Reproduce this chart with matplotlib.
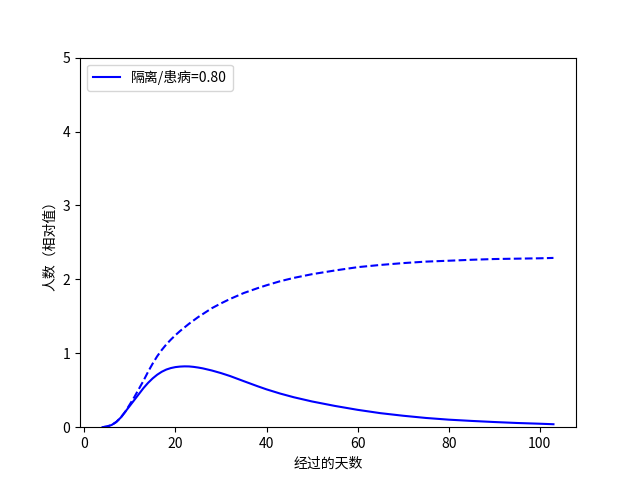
import numpy as np
import matplotlib
matplotlib.use('Agg')
import matplotlib.pyplot as plt

plt.rcParams['font.family'] = ['Noto Sans CJK SC', 'DejaVu Sans']
plt.rcParams['axes.unicode_minus'] = False

# days and relative counts
days = [4, 5, 6, 7, 8, 9, 10, 11, 12, 13, 14, 15, 16, 17, 18, 19, 20, 21, 22, 23,
        24, 25, 26, 28, 30, 32, 35, 38, 40, 43, 46, 50, 55, 60, 65, 70, 75, 80,
        85, 90, 95, 100, 103]
sick = [0.0, 0.01, 0.03, 0.07, 0.13, 0.21, 0.29, 0.37, 0.45, 0.53, 0.60, 0.66,
        0.71, 0.75, 0.78, 0.80, 0.813, 0.82, 0.823, 0.822, 0.816, 0.807, 0.796,
        0.767, 0.732, 0.692, 0.623, 0.555, 0.512, 0.455, 0.405, 0.348, 0.288,
        0.235, 0.19, 0.155, 0.125, 0.102, 0.085, 0.07, 0.057, 0.047, 0.04]
total = [0.0, 0.01, 0.03, 0.07, 0.13, 0.21, 0.31, 0.41, 0.52, 0.63, 0.75, 0.86,
         0.96, 1.045, 1.12, 1.185, 1.245, 1.30, 1.35, 1.40, 1.445, 1.49, 1.53,
         1.61, 1.675, 1.735, 1.815, 1.88, 1.92, 1.975, 2.02, 2.07, 2.12, 2.165,
         2.195, 2.22, 2.24, 2.252, 2.265, 2.275, 2.28, 2.285, 2.29]
ratio = 0.80

fig, ax = plt.subplots(figsize=(6.4, 4.8), dpi=100)
ax.plot(days, sick, 'b', label='隔离/患病=%.2f' % ratio)
ax.plot(days, total, 'b--')
ax.set_ylim(0, 5)
ax.set_xlabel('经过的天数')
ax.set_ylabel('人数（相对值）')
ax.legend(loc='upper left')
fig.savefig('out.png')
